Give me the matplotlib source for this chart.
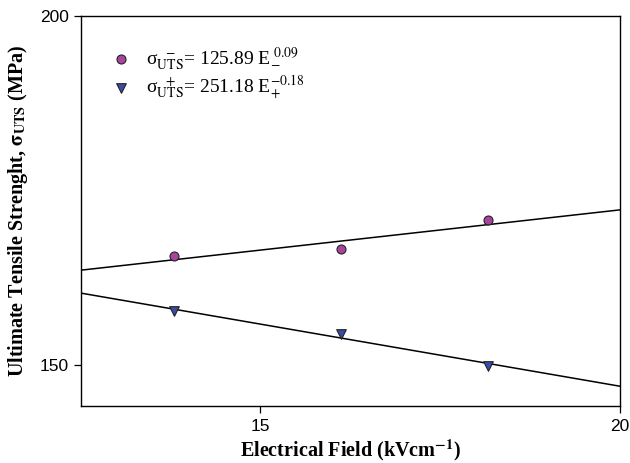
import numpy as np
import matplotlib
matplotlib.use("Agg")
import matplotlib.pyplot as plt
from matplotlib.ticker import FixedLocator, NullLocator, FixedFormatter

plt.rcParams["font.family"] = ["Liberation Serif", "DejaVu Serif"]
plt.rcParams["mathtext.fontset"] = "stix"

# 電界強度 (kV/cm) と引張強度 (MPa)
field = [14, 16, 18]
uts_minus = [164.1, 165.0, 169.0]
uts_plus = [156.8, 153.9, 149.9]

label_minus = r"σ$_{\mathrm{UTS}}^{\ \ -}$= 125.89 E$_{-}^{\ 0.09}$"
label_plus = r"σ$_{\mathrm{UTS}}^{\ \ +}$= 251.18 E$_{+}^{-0.18}$"

x_ticks = [15, 20]
y_ticks = [150, 200]

fig = plt.figure(figsize=(6.3, 4.63), dpi=100)
ax = fig.add_axes([0.1286, 0.1231, 0.8554, 0.8423])

# 両対数でのべき乗則フィット線
xf = np.array([13, 20])
for ys in (uts_minus, uts_plus):
    b, a = np.polyfit(np.log10(field), np.log10(ys), 1)
    ax.plot(xf, 10 ** (a + b * np.log10(xf)), color="black", lw=1.1, zorder=2)

ax.scatter(field, uts_minus, s=42, marker="o", color="#a8449e", edgecolor="#222222",
           linewidth=0.8, zorder=3, label=label_minus)
ax.scatter(field, uts_plus, s=48, marker="v", color="#3a4ca6", edgecolor="#222222",
           linewidth=0.8, zorder=3, label=label_plus)

ax.set_xscale("log")
ax.set_yscale("log")
ax.set_xlim(13, 20)
ax.set_ylim(145, 200)
ax.xaxis.set_major_locator(FixedLocator(x_ticks))
ax.xaxis.set_major_formatter(FixedFormatter([str(t) for t in x_ticks]))
ax.xaxis.set_minor_locator(NullLocator())
ax.yaxis.set_major_locator(FixedLocator(y_ticks))
ax.yaxis.set_major_formatter(FixedFormatter([str(t) for t in y_ticks]))
ax.yaxis.set_minor_locator(NullLocator())
ax.tick_params(direction="out", length=5, width=0.9, labelsize=12.5, pad=4)
for lab in ax.get_xticklabels() + ax.get_yticklabels():
    lab.set_fontfamily("Liberation Sans")
for sp in ax.spines.values():
    sp.set_linewidth(1.0)

ax.set_xlabel(r"Electrical Field (kVcm$^{\mathbf{-1}}$)", fontsize=14.5, fontweight="bold", labelpad=3)
ax.set_ylabel(r"Ultimate Tensile Strenght, $\mathbf{\sigma}_{\mathbf{UTS}}$ (MPa)",
              fontsize=14.5, fontweight="bold", labelpad=7)

ax.legend(loc="upper left", bbox_to_anchor=(0.032, 0.945), frameon=False, fontsize=14,
          handletextpad=0.55, labelspacing=0.0, borderaxespad=0, handlelength=1.5)

fig.savefig("out.png", dpi=100)
